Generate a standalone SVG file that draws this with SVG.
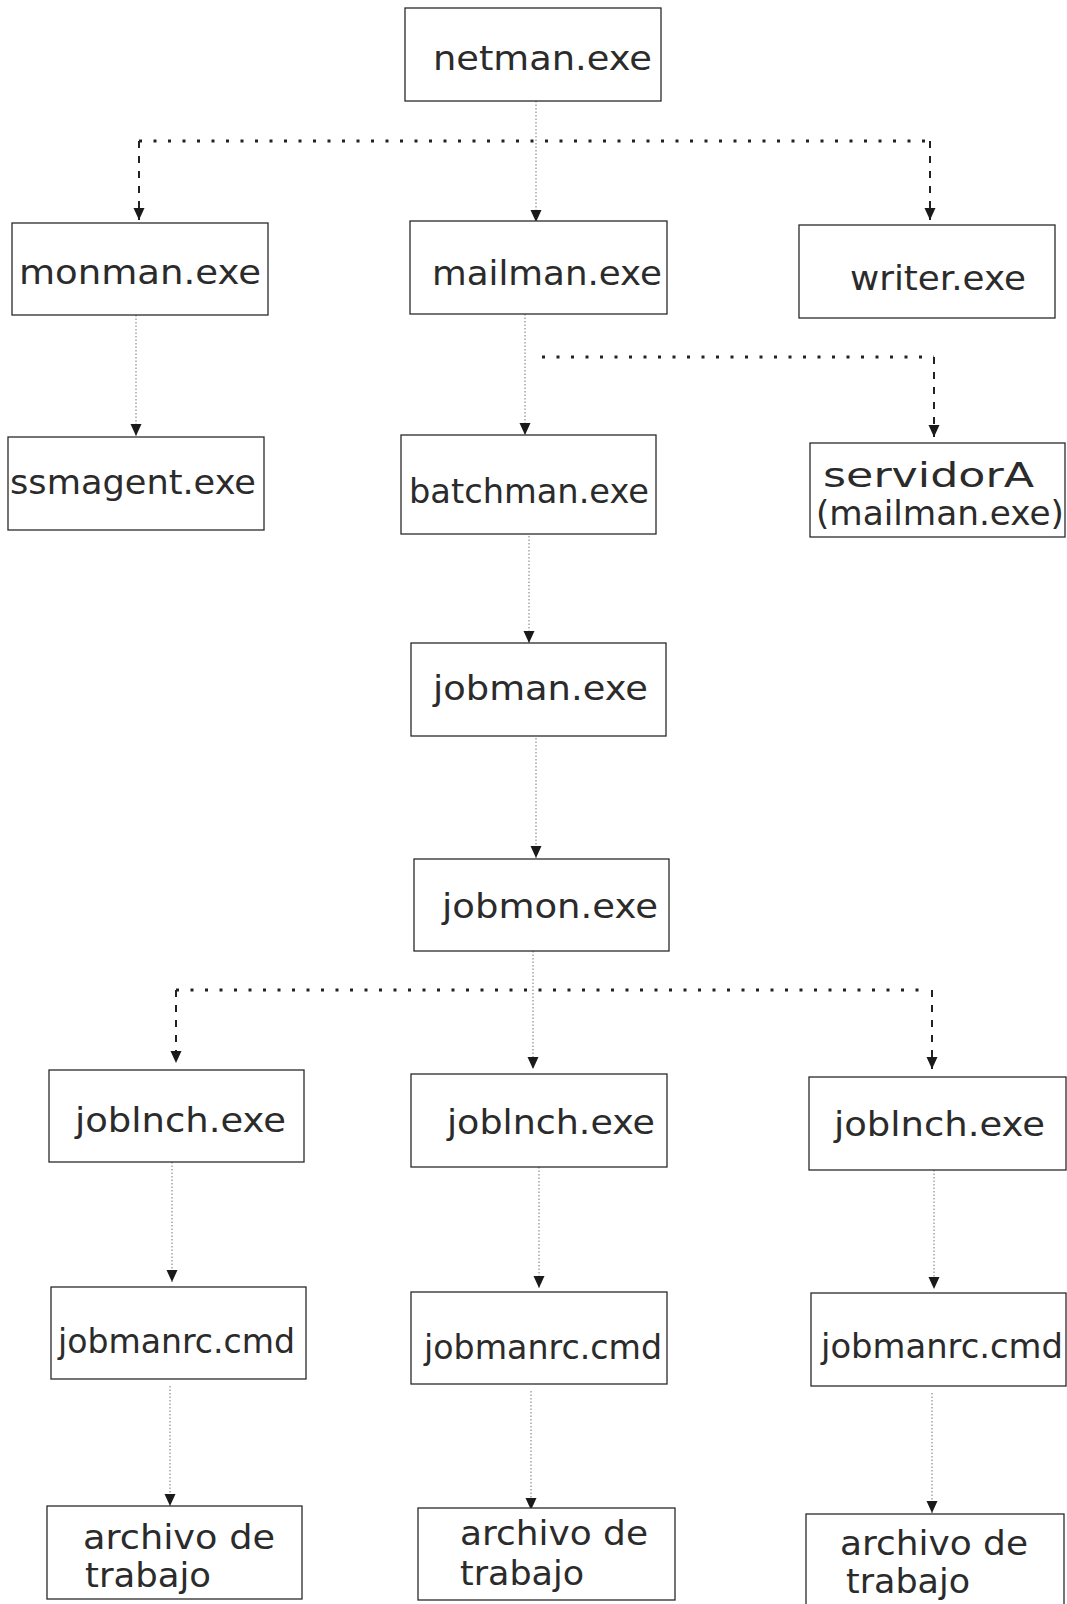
<svg xmlns="http://www.w3.org/2000/svg" width="1067" height="1604" viewBox="0 0 1067 1604">
<style>
  .box { fill: #fff; stroke: #2a2a2a; stroke-width: 1.3; }
  .t { font-family: "DejaVu Sans", "Liberation Sans", sans-serif; font-size: 34px; fill: #2b2b2b; }
  .thin { stroke: #777; stroke-width: 1; stroke-dasharray: 1.5 2; fill: none; }
  .hdot { stroke: #222; stroke-width: 3; stroke-dasharray: 3 11.5; fill: none; }
  .vdash { stroke: #222; stroke-width: 2; stroke-dasharray: 7 8; fill: none; }
</style>
<defs>
  <marker id="ah" markerUnits="userSpaceOnUse" markerWidth="12" markerHeight="12" refX="12" refY="5.5" orient="auto">
    <path d="M0,0 L12,5.5 L0,11 z" fill="#1a1a1a"/>
  </marker>
</defs>
<rect width="1067" height="1604" fill="#fff"/>

<g id="connectors">
  <line class="thin" x1="536" y1="101" x2="536" y2="222" marker-end="url(#ah)"/>
  <line class="hdot" x1="139" y1="141" x2="930" y2="141"/>
  <line class="vdash" x1="139" y1="141" x2="139" y2="220" marker-end="url(#ah)"/>
  <line class="vdash" x1="930" y1="141" x2="930" y2="220" marker-end="url(#ah)"/>
  <line class="thin" x1="136" y1="315" x2="136" y2="436" marker-end="url(#ah)"/>
  <line class="thin" x1="525" y1="314" x2="525" y2="435" marker-end="url(#ah)"/>
  <line class="hdot" x1="542" y1="357" x2="934" y2="357"/>
  <line class="vdash" x1="934" y1="357" x2="934" y2="437" marker-end="url(#ah)"/>
  <line class="thin" x1="529" y1="529" x2="529" y2="643" marker-end="url(#ah)"/>
  <line class="thin" x1="536" y1="738" x2="536" y2="858" marker-end="url(#ah)"/>
  <line class="thin" x1="533" y1="951" x2="533" y2="1069" marker-end="url(#ah)"/>
  <line class="hdot" x1="176" y1="990" x2="930" y2="990"/>
  <line class="vdash" x1="176" y1="990" x2="176" y2="1063" marker-end="url(#ah)"/>
  <line class="vdash" x1="932" y1="990" x2="932" y2="1069" marker-end="url(#ah)"/>
  <line class="thin" x1="172" y1="1162" x2="172" y2="1282" marker-end="url(#ah)"/>
  <line class="thin" x1="539" y1="1167" x2="539" y2="1288" marker-end="url(#ah)"/>
  <line class="thin" x1="934" y1="1170" x2="934" y2="1289" marker-end="url(#ah)"/>
  <line class="thin" x1="170" y1="1386" x2="170" y2="1506" marker-end="url(#ah)"/>
  <line class="thin" x1="531" y1="1391" x2="531" y2="1510" marker-end="url(#ah)"/>
  <line class="thin" x1="932" y1="1393" x2="932" y2="1513" marker-end="url(#ah)"/>
</g>

<g id="netman">
  <rect class="box" x="405" y="8" width="256" height="93"/>
  <text class="t" x="433" y="70" textLength="219" lengthAdjust="spacingAndGlyphs">netman.exe</text>
</g>
<g id="monman">
  <rect class="box" x="12" y="223" width="256" height="92"/>
  <text class="t" x="19" y="284" textLength="242" lengthAdjust="spacingAndGlyphs">monman.exe</text>
</g>
<g id="mailman">
  <rect class="box" x="410" y="221" width="257" height="93"/>
  <text class="t" x="432" y="285" textLength="230" lengthAdjust="spacingAndGlyphs">mailman.exe</text>
</g>
<g id="writer">
  <rect class="box" x="799" y="225" width="256" height="93"/>
  <text class="t" x="850" y="290" textLength="176" lengthAdjust="spacingAndGlyphs">writer.exe</text>
</g>
<g id="ssmagent">
  <rect class="box" x="8" y="437" width="256" height="93"/>
  <text class="t" x="10" y="494" textLength="246" lengthAdjust="spacingAndGlyphs">ssmagent.exe</text>
</g>
<g id="batchman">
  <rect class="box" x="401" y="435" width="255" height="99"/>
  <text class="t" x="409" y="503" textLength="240" lengthAdjust="spacingAndGlyphs">batchman.exe</text>
</g>
<g id="servidorA">
  <rect class="box" x="810" y="443" width="255" height="94"/>
  <text class="t" x="823" y="487" font-size="33" textLength="211" lengthAdjust="spacingAndGlyphs">servidorA</text>
  <text class="t" x="816" y="525" font-size="30" textLength="248" lengthAdjust="spacingAndGlyphs">(mailman.exe)</text>
</g>
<g id="jobman">
  <rect class="box" x="411" y="643" width="255" height="93"/>
  <text class="t" x="433" y="700" textLength="215" lengthAdjust="spacingAndGlyphs">jobman.exe</text>
</g>
<g id="jobmon">
  <rect class="box" x="414" y="859" width="255" height="92"/>
  <text class="t" x="442" y="918" textLength="216" lengthAdjust="spacingAndGlyphs">jobmon.exe</text>
</g>
<g id="joblnch1">
  <rect class="box" x="49" y="1070" width="255" height="92"/>
  <text class="t" x="75" y="1132" textLength="211" lengthAdjust="spacingAndGlyphs">joblnch.exe</text>
</g>
<g id="joblnch2">
  <rect class="box" x="411" y="1074" width="256" height="93"/>
  <text class="t" x="447" y="1134" textLength="208" lengthAdjust="spacingAndGlyphs">joblnch.exe</text>
</g>
<g id="joblnch3">
  <rect class="box" x="809" y="1077" width="257" height="93"/>
  <text class="t" x="834" y="1136" textLength="211" lengthAdjust="spacingAndGlyphs">joblnch.exe</text>
</g>
<g id="jobmanrc1">
  <rect class="box" x="51" y="1287" width="255" height="92"/>
  <text class="t" x="58" y="1353" textLength="237" lengthAdjust="spacingAndGlyphs">jobmanrc.cmd</text>
</g>
<g id="jobmanrc2">
  <rect class="box" x="411" y="1292" width="256" height="92"/>
  <text class="t" x="424" y="1359" textLength="238" lengthAdjust="spacingAndGlyphs">jobmanrc.cmd</text>
</g>
<g id="jobmanrc3">
  <rect class="box" x="811" y="1293" width="255" height="93"/>
  <text class="t" x="821" y="1358" textLength="242" lengthAdjust="spacingAndGlyphs">jobmanrc.cmd</text>
</g>
<g id="archivo1">
  <rect class="box" x="47" y="1506" width="255" height="93"/>
  <text class="t" x="83" y="1549" textLength="192" lengthAdjust="spacingAndGlyphs">archivo de</text>
  <text class="t" x="85" y="1587" textLength="126" lengthAdjust="spacingAndGlyphs">trabajo</text>
</g>
<g id="archivo2">
  <rect class="box" x="418" y="1508" width="257" height="92"/>
  <text class="t" x="460" y="1545" textLength="188" lengthAdjust="spacingAndGlyphs">archivo de</text>
  <text class="t" x="460" y="1585" textLength="124" lengthAdjust="spacingAndGlyphs">trabajo</text>
</g>
<g id="archivo3">
  <rect class="box" x="806" y="1514" width="258" height="95"/>
  <text class="t" x="840" y="1555" textLength="188" lengthAdjust="spacingAndGlyphs">archivo de</text>
  <text class="t" x="846" y="1593" textLength="124" lengthAdjust="spacingAndGlyphs">trabajo</text>
</g>
</svg>
